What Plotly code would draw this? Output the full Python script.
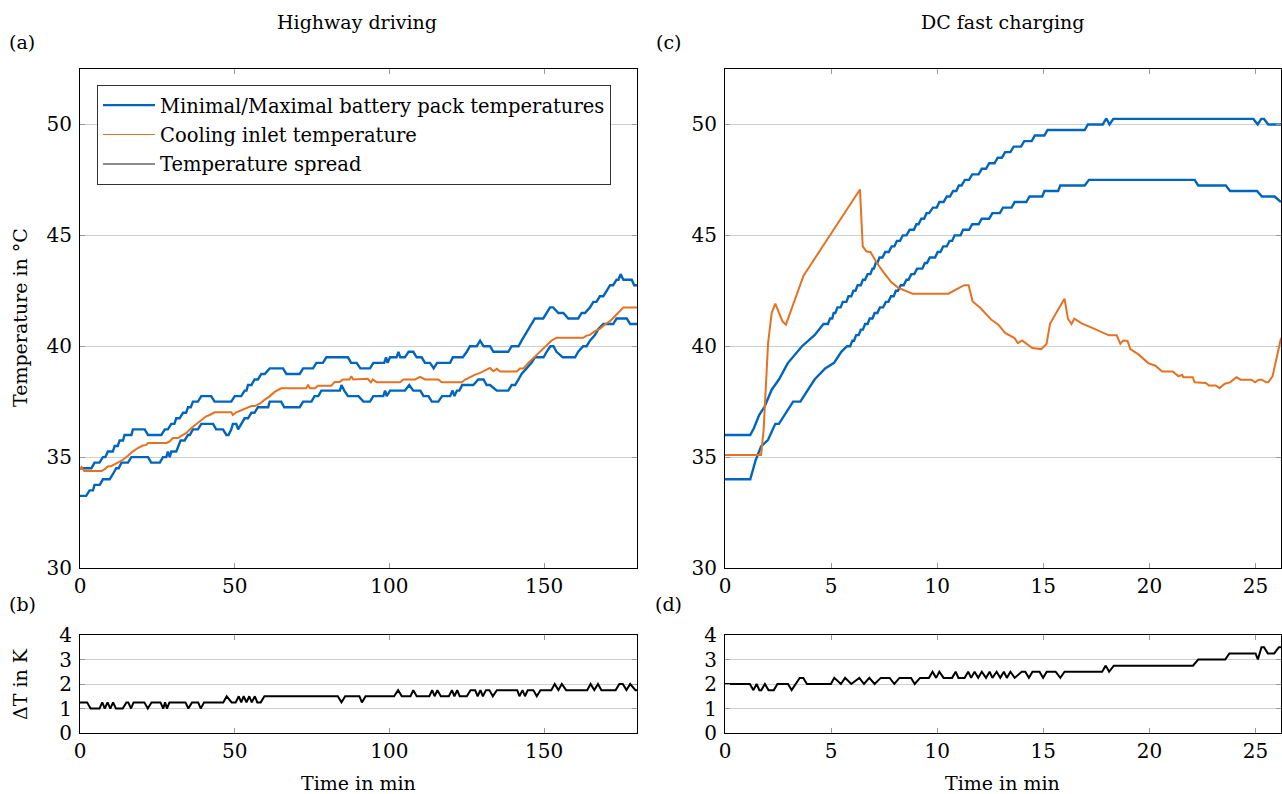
import plotly.graph_objects as go

FONT = "DejaVu Serif"
BLUE = "#0065BD"
ORANGE = "#E37222"

# ---------------- Highway driving (a) ----------------
hw_max_t = [0, 3.7, 4.7, 6.3, 7.4, 8.2, 9.0, 10.6, 11.2, 12.2, 12.8, 13.9, 14.4, 16.6, 17.1, 20.9, 22.0, 26.3,
            27.4, 28.4, 29.5, 30.5, 31.1, 32.2, 33.3, 34.3, 34.9, 35.8, 36.5, 38.1, 39.2, 42.4, 43.5, 48.9, 50.0,
            52.1, 53.2, 53.8, 54.3, 55.4, 56.4, 57.5, 58.6, 59.7, 61.3, 65.6, 66.7, 71.0, 72.1, 75.3, 76.4, 78.5,
            79.6, 86.6, 87.6, 89.4, 90.6, 93.7, 94.8, 98.3, 98.9, 99.4, 100.2, 102.3, 102.9, 103.5, 105.0, 106.2,
            107.7, 108.8, 110.4, 111.5, 113.1, 114.3, 115.4, 119.6, 120.5, 123.7, 125.0, 126.0, 128.2, 129.3,
            130.4, 132.5, 133.6, 138.4, 139.5, 141.7, 142.7, 143.8, 144.9, 146.0, 147.0, 149.7, 150.8, 151.9,
            152.9, 154.6, 156.2, 157.8, 161.0, 162.1, 163.2, 164.8, 165.9, 166.9, 168.0, 169.1, 170.2, 171.3,
            172.3, 173.4, 174.0, 174.7, 175.6, 178.3, 179.1, 180]
hw_max_v = [34.5, 34.5, 34.75, 34.75, 35.0, 35.0, 35.25, 35.25, 35.5, 35.5, 35.75, 35.75, 36.0, 36.0, 36.25, 36.25,
            36.0, 36.0, 36.25, 36.25, 36.5, 36.5, 36.75, 36.75, 37.0, 37.0, 37.25, 37.25, 37.5, 37.5, 37.75, 37.75,
            37.5, 37.5, 37.75, 37.75, 38.0, 38.0, 38.25, 38.25, 38.5, 38.5, 38.75, 38.75, 39.0, 39.0, 38.75, 38.75,
            39.0, 39.0, 39.25, 39.25, 39.5, 39.5, 39.25, 39.25, 39.0, 39.0, 39.25, 39.25, 39.5, 39.25, 39.5, 39.5,
            39.75, 39.5, 39.5, 39.75, 39.75, 39.5, 39.5, 39.25, 39.25, 39.0, 39.25, 39.25, 39.5, 39.5, 39.75, 40.0,
            40.0, 40.25, 40.0, 40.0, 39.75, 39.75, 40.0, 40.0, 40.25, 40.5, 40.75, 41.0, 41.25, 41.25, 41.5, 41.75,
            41.75, 41.5, 41.5, 41.25, 41.25, 41.5, 41.5, 41.75, 42.0, 42.0, 42.25, 42.25, 42.5, 42.75, 42.75, 43.0,
            43.0, 43.25, 43.0, 43.0, 42.75, 42.75]

hw_min_t = [0, 2.0, 3.1, 4.2, 4.7, 6.4, 7.4, 9.6, 10.7, 11.7, 12.5, 13.4, 15.5, 16.6, 22.0, 23.0, 25.8, 26.8, 27.9,
            28.4, 29.0, 29.5, 31.1, 31.7, 32.5, 33.8, 34.9, 35.5, 36.5, 38.1, 39.2, 43.0, 44.0, 46.2, 47.3, 48.0,
            48.9, 49.4, 50.5, 51.1, 52.1, 53.2, 54.3, 55.4, 56.4, 57.5, 60.8, 61.3, 65.0, 66.0, 71.0, 72.1, 74.8,
            75.8, 77.0, 78.0, 84.0, 84.5, 85.4, 86.6, 90.0, 91.6, 93.7, 94.8, 98.0, 98.6, 99.1, 100.2, 105.0,
            106.4, 107.7, 110.0, 111.0, 112.6, 113.7, 115.8, 117.0, 119.6, 120.4, 121.0, 121.8, 122.6, 123.5,
            127.1, 128.7, 130.4, 131.4, 132.5, 134.7, 138.4, 139.5, 140.6, 141.7, 142.7, 144.3, 145.9, 147.0,
            149.8, 150.8, 152.0, 153.0, 154.0, 156.0, 160.0, 161.0, 162.6, 163.7, 164.8, 166.4, 167.4, 169.1,
            172.3, 173.4, 176.7, 177.8, 180]
hw_min_v = [33.25, 33.25, 33.5, 33.5, 33.75, 33.75, 34.0, 34.0, 34.25, 34.5, 34.5, 34.75, 34.75, 35.0, 35.0, 34.75,
            34.75, 35.0, 35.0, 35.25, 35.0, 35.25, 35.25, 35.5, 35.75, 35.75, 36.0, 36.0, 36.25, 36.25, 36.5, 36.5,
            36.25, 36.25, 36.0, 36.0, 36.25, 36.5, 36.5, 36.25, 36.5, 36.75, 36.75, 37.0, 37.0, 37.25, 37.25, 37.5,
            37.5, 37.25, 37.25, 37.5, 37.5, 37.75, 37.75, 38.0, 38.0, 38.25, 38.0, 37.75, 37.75, 37.5, 37.5, 37.75,
            37.75, 38.0, 37.75, 38.0, 38.0, 38.25, 38.0, 38.0, 37.75, 37.75, 37.5, 37.5, 37.75, 37.75, 38.0, 37.75,
            38.0, 38.0, 38.25, 38.25, 38.5, 38.5, 38.25, 38.25, 38.0, 38.0, 38.25, 38.25, 38.5, 38.75, 39.0, 39.25,
            39.5, 39.5, 39.75, 40.0, 40.0, 39.75, 39.5, 39.5, 39.75, 40.0, 40.0, 40.25, 40.5, 40.75, 41.0, 41.0,
            41.25, 41.25, 41.0, 41.0]

hw_cool_t = [0, 0.5, 1.4, 7.0, 8.0, 9.0, 10.2, 11.2, 12.3, 13.9, 15.5, 17.1, 18.7, 20.3, 21.4, 22.0, 27.9, 29.0,
             30.0, 31.7, 32.8, 34.4, 36.0, 38.1, 39.8, 40.8, 41.9, 43.5, 48.9, 49.4, 50.5, 52.2, 53.8, 55.4, 56.5,
             58.1, 59.7, 61.3, 62.9, 65.0, 73.1, 73.7, 74.3, 75.9, 76.9, 81.2, 82.3, 83.9, 85.0, 87.1, 87.7, 88.3,
             93.0, 94.0, 94.6, 95.9, 103.4, 104.5, 108.3, 109.9, 111.5, 115.8, 116.9, 123.4, 124.5, 126.0, 127.7,
             129.3, 131.4, 132.5, 133.6, 134.7, 135.8, 141.1, 142.2, 143.3, 144.9, 146.5, 148.1, 149.7, 152.4,
             154.0, 162.6, 163.7, 164.8, 166.4, 168.0, 169.6, 171.3, 173.4, 175.6, 180]
hw_cool_v = [34.45, 34.55, 34.37, 34.37, 34.46, 34.58, 34.6, 34.68, 34.77, 34.88, 35.06, 35.26, 35.41, 35.52, 35.55,
             35.64, 35.64, 35.71, 35.86, 35.86, 35.97, 36.09, 36.31, 36.54, 36.69, 36.84, 36.9, 37.02, 37.02, 36.9,
             37.02, 37.13, 37.22, 37.3, 37.3, 37.41, 37.59, 37.74, 37.94, 38.1, 38.1, 38.27, 38.1, 38.1, 38.22,
             38.22, 38.39, 38.39, 38.5, 38.5, 38.65, 38.5, 38.53, 38.37, 38.5, 38.37, 38.37, 38.5, 38.5, 38.62,
             38.5, 38.5, 38.37, 38.37, 38.5, 38.62, 38.72, 38.8, 38.95, 39.02, 38.87, 38.98, 38.86, 38.86, 39.0,
             39.0, 39.25, 39.47, 39.7, 39.92, 40.26, 40.38, 40.38, 40.48, 40.51, 40.68, 40.78, 40.98, 41.13, 41.43,
             41.75, 41.75]

# ---------------- Highway spread (b) ----------------
hw_dT_t = [0, 2.3, 3.4, 6.3, 7.2, 8.0, 8.9, 9.8, 10.7, 11.6, 13.8, 15.0, 15.6, 16.5, 17.3, 20.8, 21.9, 23.1, 26.0,
           26.9, 27.5, 28.1, 28.9, 34.1, 35.0, 36.2, 38.2, 39.0, 40.1, 46.3, 47.4, 49.0, 50.3, 51.3, 52.1, 52.9,
           53.8, 54.7, 55.5, 56.5, 57.3, 58.4, 59.6, 83.3, 84.5, 85.7, 90.3, 91.1, 92.3, 101.5, 102.8, 104.0,
           106.8, 107.7, 108.8, 112.9, 113.8, 114.6, 115.5, 116.6, 119.2, 120.2, 121.0, 121.9, 122.7, 125.0,
           126.2, 127.7, 128.5, 129.4, 130.2, 131.2, 132.3, 133.4, 134.7, 141.3, 142.0, 143.0, 143.8, 144.7,
           146.5, 147.6, 148.8, 152.3, 153.4, 154.6, 155.7, 157.1, 163.9, 165.0, 166.2, 167.4, 168.5, 173.1,
           174.3, 175.4, 176.6, 177.8, 179.5, 180]
hw_dT_v = [1.25, 1.25, 1.0, 1.0, 1.25, 1.0, 1.25, 1.0, 1.25, 1.0, 1.0, 1.25, 1.25, 1.0, 1.25, 1.25, 1.0, 1.25, 1.25,
           1.0, 1.25, 1.0, 1.25, 1.25, 1.0, 1.25, 1.25, 1.0, 1.25, 1.25, 1.5, 1.25, 1.25, 1.5, 1.25, 1.5, 1.25, 1.5,
           1.25, 1.5, 1.25, 1.25, 1.5, 1.5, 1.25, 1.5, 1.5, 1.25, 1.5, 1.5, 1.75, 1.5, 1.5, 1.75, 1.5, 1.5, 1.75,
           1.5, 1.75, 1.5, 1.5, 1.75, 1.5, 1.75, 1.5, 1.5, 1.75, 1.75, 1.5, 1.75, 1.5, 1.75, 1.75, 1.5, 1.75, 1.75,
           1.5, 1.75, 1.5, 1.75, 1.75, 1.5, 1.75, 1.75, 2.0, 1.75, 2.0, 1.75, 1.75, 2.0, 1.75, 2.0, 1.75, 1.75, 2.0,
           2.0, 1.75, 2.0, 1.75, 1.75]

# ---------------- DC fast charging (c) ----------------
dc_max_t = [0, 1.19, 1.36, 1.61, 1.87, 2.2, 2.54, 2.96, 3.63, 4.22, 4.64, 4.85, 4.95, 5.05, 5.12, 5.2, 5.3, 5.45,
            5.55, 5.72, 5.82, 5.95, 6.05, 6.15, 6.25, 6.4, 6.5, 6.6, 6.72, 6.85, 6.95, 7.02, 7.1, 7.18, 7.28, 7.42,
            7.55, 7.72, 7.85, 7.98, 8.1, 8.25, 8.38, 8.55, 8.7, 8.9, 9.02, 9.12, 9.25, 9.38, 9.5, 9.62, 9.8, 9.98,
            10.1, 10.3, 10.45, 10.6, 10.75, 10.9, 11.02, 11.15, 11.3, 11.5, 11.65, 11.95, 12.1, 12.3, 12.45, 12.7,
            12.85, 13.05, 13.2, 13.45, 13.6, 13.95, 14.1, 14.45, 14.6, 15.05, 15.2, 16.95, 17.1, 17.8, 17.97,
            18.12, 18.3, 24.9, 25.1, 25.27, 25.4, 25.6, 26.2]
dc_max_v = [36.0, 36.0, 36.3, 36.9, 37.28, 38.04, 38.5, 39.24, 40.0, 40.5, 41.0, 41.0, 41.25, 41.25, 41.5, 41.5,
            41.75, 41.75, 42.0, 42.0, 42.25, 42.25, 42.5, 42.5, 42.75, 42.75, 43.0, 43.0, 43.25, 43.25, 43.5, 43.5,
            43.75, 43.75, 44.0, 44.0, 44.25, 44.25, 44.5, 44.5, 44.75, 44.75, 45.0, 45.0, 45.25, 45.25, 45.5, 45.5,
            45.75, 45.75, 46.0, 46.0, 46.25, 46.25, 46.5, 46.5, 46.75, 46.75, 47.0, 47.0, 47.25, 47.25, 47.5, 47.5,
            47.75, 47.75, 48.0, 48.0, 48.25, 48.25, 48.5, 48.5, 48.75, 48.75, 49.0, 49.0, 49.25, 49.25, 49.5, 49.5,
            49.75, 49.75, 50.0, 50.0, 50.27, 50.0, 50.25, 50.25, 50.0, 50.25, 50.25, 50.0, 50.0]

dc_min_t = [0, 1.19, 1.45, 1.7, 2.03, 2.37, 2.54, 2.87, 3.21, 3.55, 3.88, 4.22, 4.72, 5.14, 5.48, 5.75, 5.9, 6.0,
            6.08, 6.18, 6.3, 6.4, 6.5, 6.6, 6.72, 6.82, 6.95, 7.05, 7.18, 7.3, 7.45, 7.58, 7.7, 7.82, 7.95, 8.05,
            8.15, 8.28, 8.42, 8.55, 8.65, 8.78, 8.92, 9.05, 9.3, 9.42, 9.52, 9.65, 9.9, 10.02, 10.15, 10.28, 10.45,
            10.58, 10.7, 10.82, 11.1, 11.22, 11.5, 11.65, 11.95, 12.1, 12.45, 12.6, 12.95, 13.1, 13.5, 13.65, 14.2,
            14.35, 14.95, 15.05, 15.7, 15.8, 16.95, 17.15, 22.13, 22.3, 23.6, 23.8, 25.07, 25.3, 25.9, 26.2]
dc_min_v = [34.0, 34.0, 34.88, 35.48, 35.78, 36.5, 36.5, 37.0, 37.5, 37.5, 38.0, 38.5, 39.0, 39.25, 39.75, 40.0,
            40.0, 40.25, 40.25, 40.5, 40.5, 40.75, 40.75, 41.0, 41.0, 41.25, 41.25, 41.5, 41.5, 41.75, 41.75, 42.0,
            42.0, 42.25, 42.25, 42.5, 42.5, 42.75, 42.75, 43.0, 43.0, 43.25, 43.25, 43.5, 43.5, 43.75, 43.75, 44.0,
            44.0, 44.25, 44.25, 44.5, 44.5, 44.75, 44.75, 45.0, 45.0, 45.25, 45.25, 45.5, 45.5, 45.75, 45.75, 46.0,
            46.0, 46.25, 46.25, 46.5, 46.5, 46.75, 46.75, 47.0, 47.0, 47.25, 47.25, 47.5, 47.5, 47.25, 47.25, 47.0,
            47.0, 46.75, 46.75, 46.5]

dc_cool_t = [0, 1.7, 1.82, 1.95, 2.03, 2.2, 2.37, 2.71, 2.87, 3.7, 6.36, 6.49, 6.66, 6.86, 7.16, 7.5, 7.84, 8.17,
             8.51, 8.84, 10.53, 10.78, 11.03, 11.28, 11.48, 11.67, 12.04, 12.54, 12.88, 13.2, 13.64, 13.8, 14.0,
             14.48, 14.9, 15.15, 15.32, 15.74, 16.0, 16.16, 16.33, 16.46, 16.83, 17.25, 17.75, 18.09, 18.46, 18.63,
             18.76, 18.97, 19.1, 19.5, 19.94, 20.28, 20.6, 21.1, 21.37, 21.54, 21.6, 22.04, 22.13, 22.66, 22.8,
             23.13, 23.3, 23.55, 23.8, 24.1, 24.3, 24.8, 24.98, 25.15, 25.3, 25.5, 25.6, 25.8, 26.2]
dc_cool_v = [35.1, 35.1, 36.23, 38.79, 40.14, 41.5, 41.92, 41.12, 40.97, 43.18, 47.07, 44.5, 44.28, 44.24, 43.75,
             43.3, 42.88, 42.63, 42.48, 42.37, 42.37, 42.52, 42.63, 42.75, 42.75, 42.02, 41.72, 41.2, 40.97, 40.6,
             40.37, 40.14, 40.26, 39.92, 39.87, 40.1, 41.02, 41.72, 42.14, 41.24, 41.0, 41.24, 41.02, 40.85, 40.64,
             40.49, 40.49, 40.11, 40.26, 40.24, 39.87, 39.62, 39.24, 39.12, 38.86, 38.86, 38.64, 38.71, 38.6, 38.6,
             38.37, 38.34, 38.23, 38.23, 38.11, 38.31, 38.37, 38.6, 38.49, 38.49, 38.37, 38.49, 38.49, 38.37,
             38.37, 38.64, 40.37]

# ---------------- DC spread (d) ----------------
dc_dT_t = [0, 1.17, 1.34, 1.49, 1.62, 1.71, 1.88, 2.05, 2.3, 2.47, 2.97, 3.14, 3.52, 3.69, 3.86, 4.99, 5.15, 5.46,
           5.66, 5.95, 6.33, 6.55, 6.8, 7.05, 7.34, 7.76, 7.98, 8.22, 8.77, 8.94, 9.19, 9.61, 9.78, 9.95, 10.1,
           10.3, 10.7, 10.87, 11.0, 11.29, 11.46, 11.6, 11.76, 11.93, 12.1, 12.3, 12.47, 12.6, 12.8, 12.97, 13.14,
           13.28, 13.45, 13.65, 13.98, 14.15, 14.32, 14.49, 14.82, 14.99, 15.16, 15.58, 15.8, 16.0, 17.77, 17.94,
           18.1, 18.32, 22.05, 22.3, 23.57, 23.77, 25.0, 25.11, 25.28, 25.4, 25.58, 25.88, 26.1, 26.2]
dc_dT_v = [2.0, 2.0, 1.75, 2.0, 1.75, 1.75, 2.0, 1.75, 1.75, 2.0, 2.0, 1.75, 2.25, 2.25, 2.0, 2.0, 2.25, 2.0, 2.25,
           2.0, 2.25, 2.0, 2.25, 2.0, 2.25, 2.25, 2.0, 2.25, 2.25, 2.0, 2.25, 2.25, 2.5, 2.25, 2.5, 2.25, 2.25, 2.5,
           2.25, 2.25, 2.5, 2.25, 2.5, 2.25, 2.5, 2.25, 2.5, 2.25, 2.5, 2.25, 2.5, 2.25, 2.5, 2.25, 2.5, 2.5, 2.25,
           2.5, 2.5, 2.25, 2.5, 2.5, 2.25, 2.5, 2.5, 2.75, 2.5, 2.75, 2.75, 3.0, 3.0, 3.25, 3.25, 3.0, 3.5, 3.5,
           3.25, 3.25, 3.5, 3.5]

hw_xticks = [0, 50, 100, 150]
dc_xticks = [0, 5, 10, 15, 20, 25]
temp_ticks = [30, 35, 40, 45, 50]
dT_ticks = [0, 1, 2, 3, 4]

W, H = 1282, 794
def px(x):
    return x / W
def py(y):
    return (H - y) / H

fig = go.Figure()

def line(x, y, color, width, xa, ya):
    fig.add_trace(go.Scatter(x=x, y=y, mode="lines", line=dict(color=color, width=width),
                             xaxis=xa, yaxis=ya, showlegend=False, hoverinfo="skip"))

line(hw_max_t, hw_max_v, BLUE, 2.4, "x", "y")
line(hw_min_t, hw_min_v, BLUE, 2.4, "x", "y")
line(hw_cool_t, hw_cool_v, ORANGE, 2.0, "x", "y")
line(dc_max_t, dc_max_v, BLUE, 2.4, "x2", "y2")
line(dc_min_t, dc_min_v, BLUE, 2.4, "x2", "y2")
line(dc_cool_t, dc_cool_v, ORANGE, 2.0, "x2", "y2")
line(hw_dT_t, hw_dT_v, "black", 2.0, "x3", "y3")
line(dc_dT_t, dc_dT_v, "black", 2.0, "x4", "y4")

# legend entries
for name, color, width, grp in [("Minimal/Maximal battery pack temperatures", BLUE, 2.2, "g1"),
                                ("Cooling inlet temperature", ORANGE, 1.1, "g2"),
                                ("Temperature spread", "#666666", 1.5, "g3")]:
    fig.add_trace(go.Scatter(x=[None], y=[None], mode="lines", name=name, legendgroup=grp,
                             line=dict(color=color, width=width), xaxis="x", yaxis="y"))

axis_common = dict(showline=True, linecolor="black", linewidth=1, mirror="ticks", ticks="inside",
                   ticklen=5, tickcolor="#9a9a9a", tickwidth=1, zeroline=False, automargin=False,
                   tickfont=dict(family=FONT, size=20, color="black"))

xl = [px(80), px(637)]
xr = [px(725), px(1281)]
yt = [py(568), py(69)]
yb = [py(733), py(635)]

fig.update_layout(
    template="none",
    width=W, height=H, margin=dict(l=0, r=0, t=0, b=0, autoexpand=False),
    paper_bgcolor="white", plot_bgcolor="white",
    font=dict(family=FONT, size=19, color="black"),
    xaxis=dict(domain=xl, range=[0, 180], tickvals=hw_xticks, showgrid=False, anchor="y", **axis_common),
    yaxis=dict(domain=yt, range=[30, 52.5], tickvals=temp_ticks, showgrid=True, gridcolor="#cfcfcf",
               anchor="x", ticklabelstandoff=3, **axis_common),
    xaxis2=dict(domain=xr, range=[0, 26.2], tickvals=dc_xticks, showgrid=False, anchor="y2", **axis_common),
    yaxis2=dict(domain=yt, range=[30, 52.5], tickvals=temp_ticks, showgrid=True, gridcolor="#cfcfcf",
                anchor="x2", ticklabelstandoff=3, **axis_common),
    xaxis3=dict(domain=xl, range=[0, 180], tickvals=hw_xticks, showgrid=False, anchor="y3", **axis_common),
    yaxis3=dict(domain=yb, range=[0, 4], tickvals=dT_ticks, showgrid=True, gridcolor="#cfcfcf",
                anchor="x3", ticklabelstandoff=3, **axis_common),
    xaxis4=dict(domain=xr, range=[0, 26.2], tickvals=dc_xticks, showgrid=False, anchor="y4", **axis_common),
    yaxis4=dict(domain=yb, range=[0, 4], tickvals=dT_ticks, showgrid=True, gridcolor="#cfcfcf",
                anchor="x4", ticklabelstandoff=3, **axis_common),
    legend=dict(x=px(97), y=py(85), xanchor="left", yanchor="top", bgcolor="white",
                bordercolor="#333333", borderwidth=1, font=dict(family=FONT, size=19.5, color="black"),
                traceorder="grouped", tracegroupgap=1, itemwidth=52, entrywidth=533),
    showlegend=True,
)

ann = [
    ("Highway driving", px(357), py(22), 0),
    ("DC fast charging", px(1003), py(22), 0),
    ("(a)", px(22), py(42), 0),
    ("(c)", px(668), py(42), 0),
    ("(b)", px(22), py(604), 0),
    ("(d)", px(668), py(604), 0),
    ("Time in min", px(358), py(783), 0),
    ("Time in min", px(1003), py(783), 0),
    ("Temperature in °C", px(20), py(318), -90),
    ("ΔT in K", px(20), py(684), -90),
]
for text, x, y, ang in ann:
    fig.add_annotation(text=text, x=x, y=y, xref="paper", yref="paper", showarrow=False,
                       xanchor="center", yanchor="middle", textangle=ang,
                       font=dict(family=FONT, size=19, color="black"))

fig.write_html("out.html")
